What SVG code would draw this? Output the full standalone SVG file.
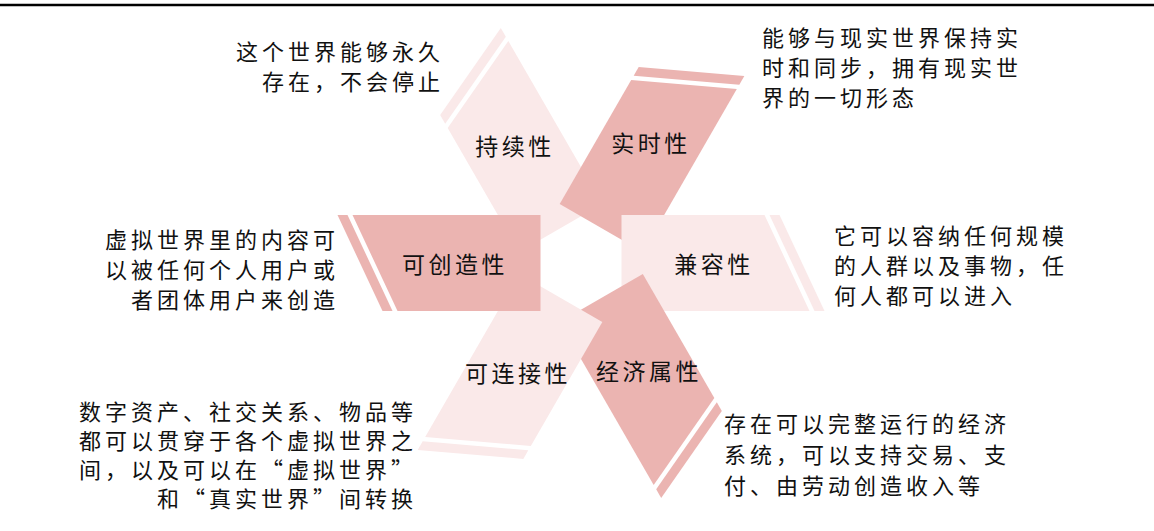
<svg xmlns="http://www.w3.org/2000/svg" xmlns:xlink="http://www.w3.org/1999/xlink" width="1154" height="531" viewBox="0 0 1154 531">
  <style>
    .dark { fill: #EBB4B1; }
    .light { fill: #FAE9E9; }
    .lbl { font-family: "Noto Sans CJK SC", sans-serif; font-size: 23px; letter-spacing: 3.5px; fill: #111; text-anchor: middle; }
    .desc { font-family: "Noto Sans CJK SC", sans-serif; font-size: 22px; letter-spacing: 4px; fill: #111; }
    .end { text-anchor: end; }
    .start { text-anchor: start; }
  </style>
  <defs>
    <g id="arm">
      <polygon points="-228.5,-48 -40.5,-48 -40.5,48 -183.5,48"/>
      <polygon points="-243.5,-48 -233.5,-48 -188.5,48 -198.5,48"/>
    </g>
  </defs>
  <rect x="0" y="0" width="1154" height="531" fill="#FFFFFF"/>
  <line x1="0" y1="5" x2="1154" y2="5" stroke="#000" stroke-width="2.5"/>

  <g id="connectors"></g>

  <g id="node-chixu">
    <use xlink:href="#arm" class="light" transform="translate(581,263) rotate(60)"/>
    <text class="lbl" x="515" y="155">持续性</text>
    <text class="desc end" x="444" y="60">这个世界能够永久</text>
    <text class="desc end" x="444" y="90">存在，不会停止</text>
  </g>
  <g id="node-shishi">
    <use xlink:href="#arm" class="dark" transform="translate(581,263) rotate(120)"/>
    <text class="lbl" x="651" y="152">实时性</text>
    <text class="desc start" x="762" y="46">能够与现实世界保持实</text>
    <text class="desc start" x="762" y="76">时和同步，拥有现实世</text>
    <text class="desc start" x="762" y="106">界的一切形态</text>
  </g>
  <g id="node-jianrong">
    <use xlink:href="#arm" class="light" transform="translate(581,263) rotate(180)"/>
    <text class="lbl" x="714" y="273">兼容性</text>
    <text class="desc start" x="834" y="244">它可以容纳任何规模</text>
    <text class="desc start" x="834" y="274">的人群以及事物，任</text>
    <text class="desc start" x="834" y="304">何人都可以进入</text>
  </g>
  <g id="node-jingji">
    <use xlink:href="#arm" class="dark" transform="translate(581,263) rotate(240)"/>
    <text class="lbl" x="649" y="380">经济属性</text>
    <text class="desc start" x="724" y="432">存在可以完整运行的经济</text>
    <text class="desc start" x="724" y="463">系统，可以支持交易、支</text>
    <text class="desc start" x="724" y="494">付、由劳动创造收入等</text>
  </g>
  <g id="node-lianjie">
    <use xlink:href="#arm" class="light" transform="translate(581,263) rotate(300)"/>
    <text class="lbl" x="518" y="382">可连接性</text>
    <text class="desc end" x="417" y="420">数字资产、社交关系、物品等</text>
    <text class="desc end" x="417" y="449">都可以贯穿于各个虚拟世界之</text>
    <text class="desc end" x="417" y="478">间，以及可以在“虚拟世界”</text>
    <text class="desc end" x="417" y="507">和“真实世界”间转换</text>
  </g>
  <g id="node-chuangzao">
    <use xlink:href="#arm" class="dark" transform="translate(581,263) rotate(0)"/>
    <text class="lbl" x="455" y="273">可创造性</text>
    <text class="desc end" x="339" y="248">虚拟世界里的内容可</text>
    <text class="desc end" x="339" y="278">以被任何个人用户或</text>
    <text class="desc end" x="339" y="308">者团体用户来创造</text>
  </g>
</svg>
